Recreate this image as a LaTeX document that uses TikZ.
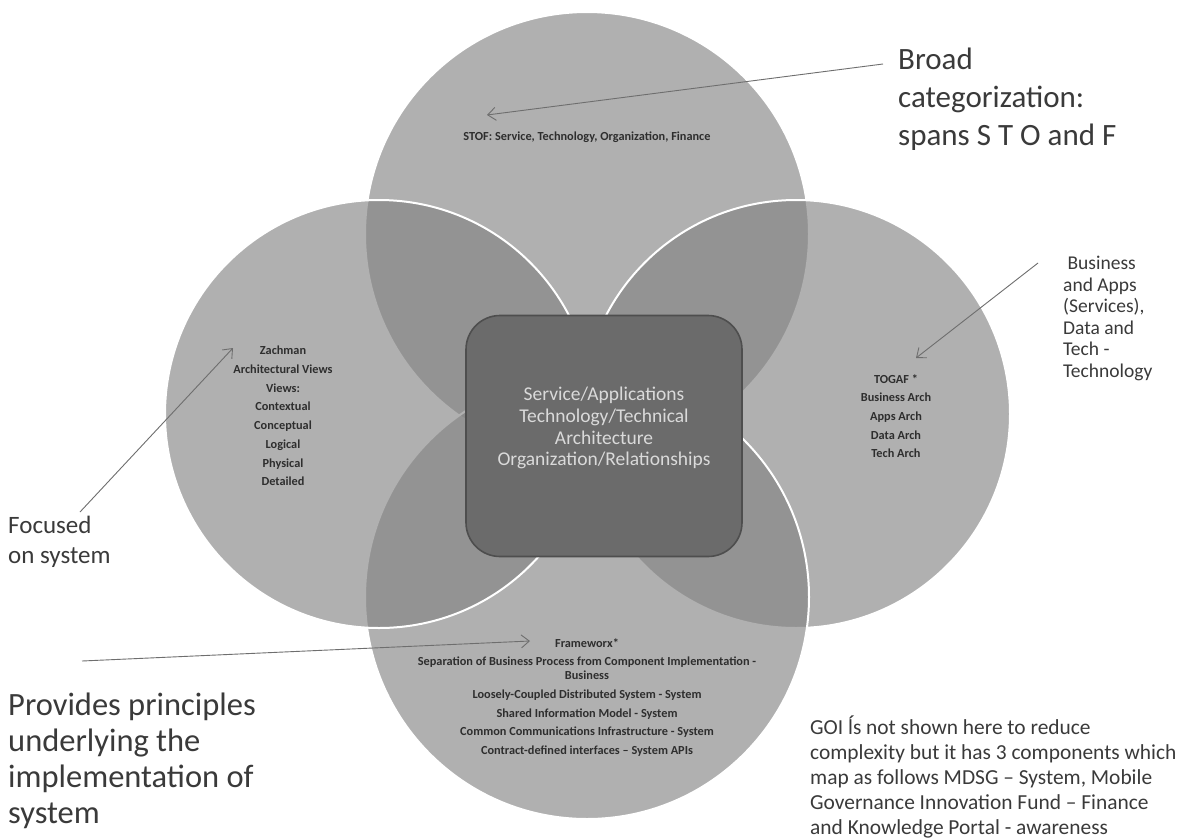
\documentclass[tikz,border=0pt]{standalone}
\usepackage{fontspec}
\setmainfont{Carlito}
\usetikzlibrary{arrows.meta}
\definecolor{circfill}{HTML}{848484}
\definecolor{boxfill}{HTML}{6B6B6B}
\definecolor{boxedge}{HTML}{4E4E4E}
\definecolor{boxtext}{HTML}{DADADA}
\definecolor{smalltext}{HTML}{2E2E2E}
\definecolor{labeltext}{HTML}{3A3A3A}
\definecolor{arrowcol}{HTML}{6E6E6E}
\tikzset{
  venn/.style={fill=circfill, fill opacity=0.64, draw=white, line width=2pt},
  inner/.style={text=smalltext, align=center, inner sep=0pt, font=\fontsize{12.3}{18.7}\selectfont\bfseries},
  lbl/.style={text=labeltext, align=left, inner sep=0pt, anchor=north west},
  pointer/.style={draw=arrowcol, line width=0.9pt, -{Straight Barb[length=8pt,width=13pt,line width=0.9pt]}},
}
\begin{document}
\begin{tikzpicture}[x=1pt,y=-1pt]
\useasboundingbox (0,0) rectangle (1199,839);
\fill[white] (0,0) rectangle (1199,839);
% circles, drawn in order top, right, bottom, left
\path[venn] (587,234) circle (222);
\path[venn] (796,414) circle (214);
\path[venn] (587,597) circle (222);
\path[venn] (379,414) circle (214);
% central box
\node[draw=boxedge, line width=1.6pt, fill=boxfill, rounded corners=34pt,
      minimum width=276pt, minimum height=241pt] (core) at (604,436) {};
\node[text=boxtext, align=center, inner sep=0pt,
      font=\fontsize{19.5}{21.8}\selectfont] (coretext) at (604,428)
  {Service/Applications\\Technology/Technical\\Architecture\\Organization/Relationships};
% circle contents
\node[inner] (stof) at (587,137) {STOF: Service, Technology, Organization, Finance};
\node[inner, anchor=north] (zach) at (283,346)
  {Zachman\\Architectural Views\\Views:\\Contextual\\Conceptual\\Logical\\Physical\\Detailed};
\node[inner, anchor=north] (togaf) at (896,374)
  {TOGAF *\\Business Arch\\Apps Arch\\Data Arch\\Tech Arch};
\node[inner, anchor=north] (fwx) at (587,638)
  {Frameworx*\\Separation of Business Process from Component Implementation -\\[-4.7pt]Business\\Loosely-Coupled Distributed System - System\\Shared Information Model - System\\Common Communications Infrastructure - System\\Contract-defined interfaces -- System APIs};
% outside labels
\node[lbl, font=\fontsize{31}{38}\selectfont] (broad) at (898,48)
  {Broad\\categorization:\\spans S T O and F};
\node[lbl, font=\fontsize{19.5}{21.5}\selectfont] (bizapps) at (1063,256)
  {\ Business\\and Apps\\(Services),\\Data and\\Tech -\\Technology};
\node[lbl, font=\fontsize{25}{30}\selectfont] (focus) at (8,516)
  {Focused\\on system};
\node[lbl, font=\fontsize{32.5}{36}\selectfont] (provides) at (8,693)
  {Provides principles\\underlying the\\implementation of\\system};
\node[lbl, font=\fontsize{21.4}{25}\selectfont] (goi) at (810,716)
  {GOI ĺs not shown here to reduce\\complexity but it has 3 components which\\map as follows MDSG -- System, Mobile\\Governance Innovation Fund -- Finance\\and Knowledge Portal - awareness};
% pointer arrows
\coordinate (broadS) at (883,64);
\coordinate (broadT) at (487,115);
\draw[pointer] (broadS) -- (broadT);
\coordinate (bizS) at (1038,263);
\coordinate (bizT) at (916,358);
\draw[pointer] (bizS) -- (bizT);
\coordinate (focS) at (80,512);
\coordinate (focT) at (233,348);
\draw[pointer] (focS) -- (focT);
\coordinate (provS) at (82,661);
\coordinate (provT) at (530,641);
\draw[pointer] (provS) -- (provT);
\end{tikzpicture}
\end{document}
